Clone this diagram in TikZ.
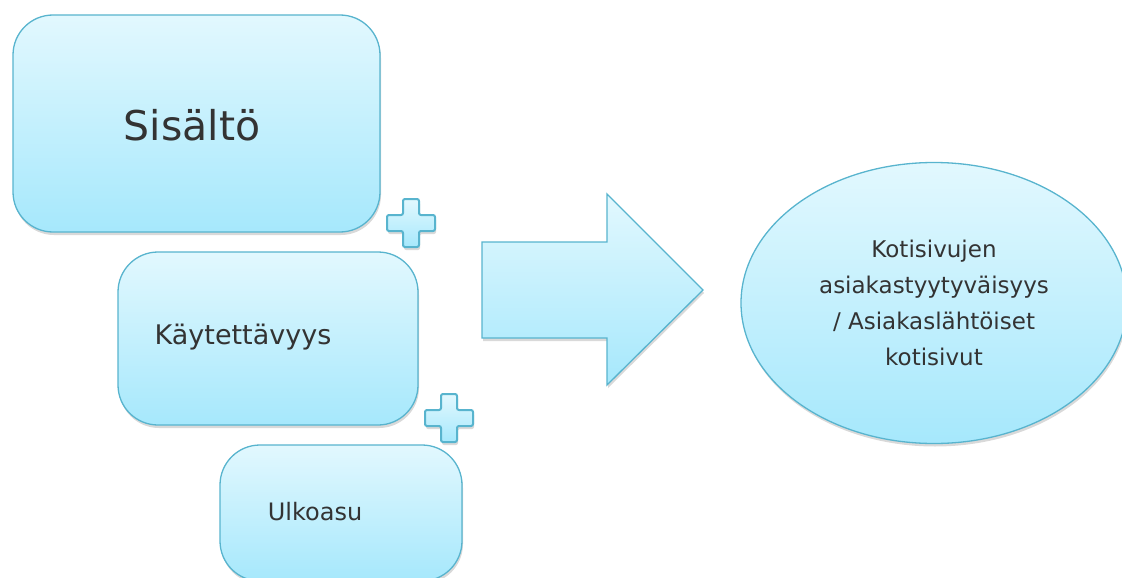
\documentclass[tikz,border=0pt]{standalone}
\usepackage{fontspec}
\setmainfont{DejaVu Sans}
\usetikzlibrary{shapes.geometric,shadows,calc}

\definecolor{lighttop}{HTML}{E2F8FE}
\definecolor{lightbot}{HTML}{A6E8FC}
\definecolor{edgeblue}{HTML}{58B4CE}
\definecolor{inkgray}{HTML}{333333}

\tikzset{
  bluefill/.style={draw=edgeblue, line width=1.3pt, top color=lighttop, bottom color=lightbot,
    drop shadow={shadow xshift=1pt, shadow yshift=-3pt, opacity=0.3}},
  roundbox/.style={bluefill, rectangle, rounded corners=40pt, inner sep=0pt},
  boxtext/.style={text=inkgray, inner sep=0pt},
  plus/.pic={
    \draw[bluefill, rounded corners=2pt, line width=2pt]
      (-8,-24) -- (8,-24) -- (8,-8) -- (24,-8) -- (24,8) -- (8,8) -- (8,24)
      -- (-8,24) -- (-8,8) -- (-24,8) -- (-24,-8) -- (-8,-8) -- cycle;
  }
}

\begin{document}
\begin{tikzpicture}[x=1pt, y=-1pt]
\useasboundingbox (0,0) rectangle (1122,578);

% three boxes
\node[roundbox, minimum width=367pt, minimum height=217pt] (sisalto) at (196.5,123.5) {};
\node[roundbox, minimum width=300pt, minimum height=173pt] (kaytto) at (268,338.5) {};
\node[roundbox, minimum width=242pt, minimum height=136pt] (ulkoasu) at (341,513) {};
\node[boxtext, font=\fontsize{41}{49}\selectfont] (sisalto-t) at (192,125) {Sisältö};
\node[boxtext, font=\fontsize{27}{32}\selectfont] (kaytto-t) at (243,337) {Käytettävyys};
\node[boxtext, font=\fontsize{24}{29}\selectfont] (ulkoasu-t) at (315,512) {Ulkoasu};

% plus signs
\pic at (411,223) {plus};
\pic at (449,418) {plus};

% big arrow
\draw[bluefill] (482,242) -- (607,242) -- (607,194) -- (703,290)
  -- (607,385) -- (607,338) -- (482,338) -- cycle;

% result
\node[bluefill, ellipse, minimum width=386pt, minimum height=281pt, inner sep=0pt,
  text=inkgray, align=center, font=\fontsize{23}{36}\selectfont] (tulos) at (934,303)
  {Kotisivujen\\asiakastyytyväisyys\\/ Asiakaslähtöiset\\kotisivut};
\end{tikzpicture}
\end{document}
